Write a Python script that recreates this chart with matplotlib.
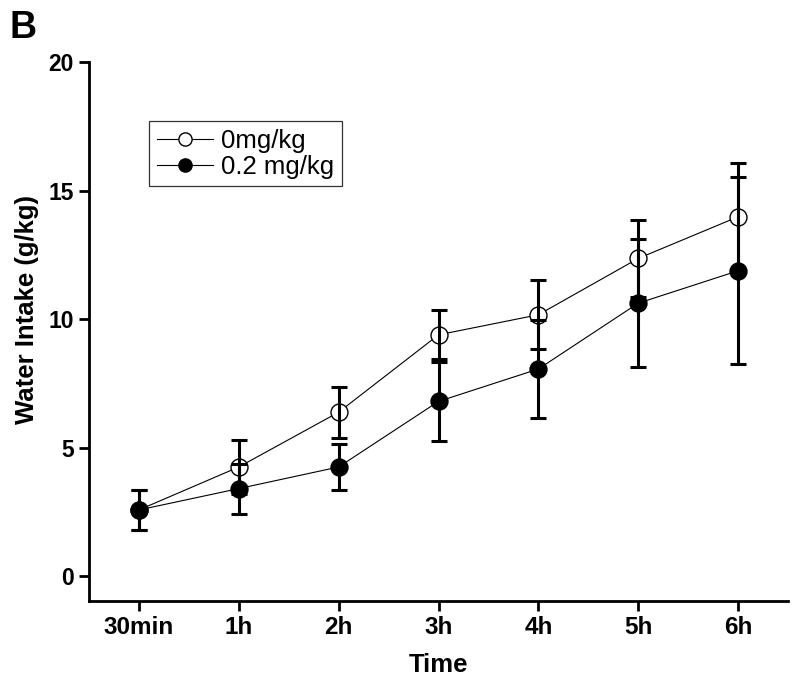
import matplotlib
matplotlib.use("Agg")
import matplotlib.pyplot as plt
import numpy as np

plt.rcParams.update({"font.family": ["Liberation Sans", "DejaVu Sans"]})

times = ["30min", "1h", "2h", "3h", "4h", "5h", "6h"]
ctrl_mean = [2.58, 4.25, 6.38, 9.39, 10.17, 12.36, 13.98]
ctrl_sem = [0.78, 1.05, 1.00, 0.95, 1.35, 1.48, 2.10]
dose_mean = [2.58, 3.41, 4.25, 6.80, 8.06, 10.62, 11.88]
dose_sem = [0.78, 0.97, 0.88, 1.55, 1.91, 2.50, 3.63]

LW_ERR = 2.2
MS = 12.2

fig = plt.figure(figsize=(8.0, 6.86), dpi=100)
ax = fig.add_axes([89 / 800, 1 - 600.7 / 686, 699 / 800, 538.7 / 686])

x = np.arange(len(times))

l0, = ax.plot(x, ctrl_mean, "-o", color="black", lw=0.8, ms=MS, mfc="white",
              mec="black", mew=1.0, zorder=2, label="0mg/kg")
ax.errorbar(x, ctrl_mean, yerr=ctrl_sem, fmt="none", ecolor="black",
            elinewidth=LW_ERR, capsize=6, capthick=LW_ERR, zorder=3)

l1, = ax.plot(x, dose_mean, "-o", color="black", lw=0.8, ms=MS, mfc="black",
              mec="black", mew=1.0, zorder=4, label="0.2 mg/kg")
ax.errorbar(x, dose_mean, yerr=dose_sem, fmt="none", ecolor="black",
            elinewidth=LW_ERR, capsize=6, capthick=LW_ERR, zorder=5)

ax.set_xlim(-0.5, 6.5)
ax.set_ylim(-0.95, 20)
ax.set_xticks(x)
ax.set_xticklabels(times)
ax.set_yticks([0, 5, 10, 15, 20])

for side in ["top", "right"]:
    ax.spines[side].set_visible(False)
for side in ["left", "bottom"]:
    ax.spines[side].set_linewidth(2.0)

ax.tick_params(axis="both", direction="out", length=7, width=2.0, pad=4)
for lab in ax.get_xticklabels():
    lab.set_fontsize(17.5)
    lab.set_fontweight("bold")
for lab in ax.get_yticklabels():
    lab.set_fontsize(16.5)
    lab.set_fontweight("bold")

ax.set_xlabel("Time", fontsize=18.5, fontweight="bold")
ax.xaxis.set_label_coords(0.5, -0.098)
ax.set_ylabel("Water Intake (g/kg)", fontsize=18.5, fontweight="bold")
ax.yaxis.set_label_coords(-0.072, 0.54)

leg = fig.legend(handles=[l0, l1], loc="upper left",
                 bbox_to_anchor=(149 / 800, 1 - 121 / 686),
                 frameon=True, fancybox=False, fontsize=18.5, markerscale=0.78,
                 handlelength=2.2, handletextpad=0.3, borderpad=0.3,
                 labelspacing=0.08, borderaxespad=0)
leg.get_frame().set_edgecolor("black")
leg.get_frame().set_linewidth(0.9)

fig.text(10 / 800, 1 - 10 / 686, "B", fontsize=27, fontweight="bold",
         ha="left", va="top")

fig.savefig("out.png", dpi=100)
